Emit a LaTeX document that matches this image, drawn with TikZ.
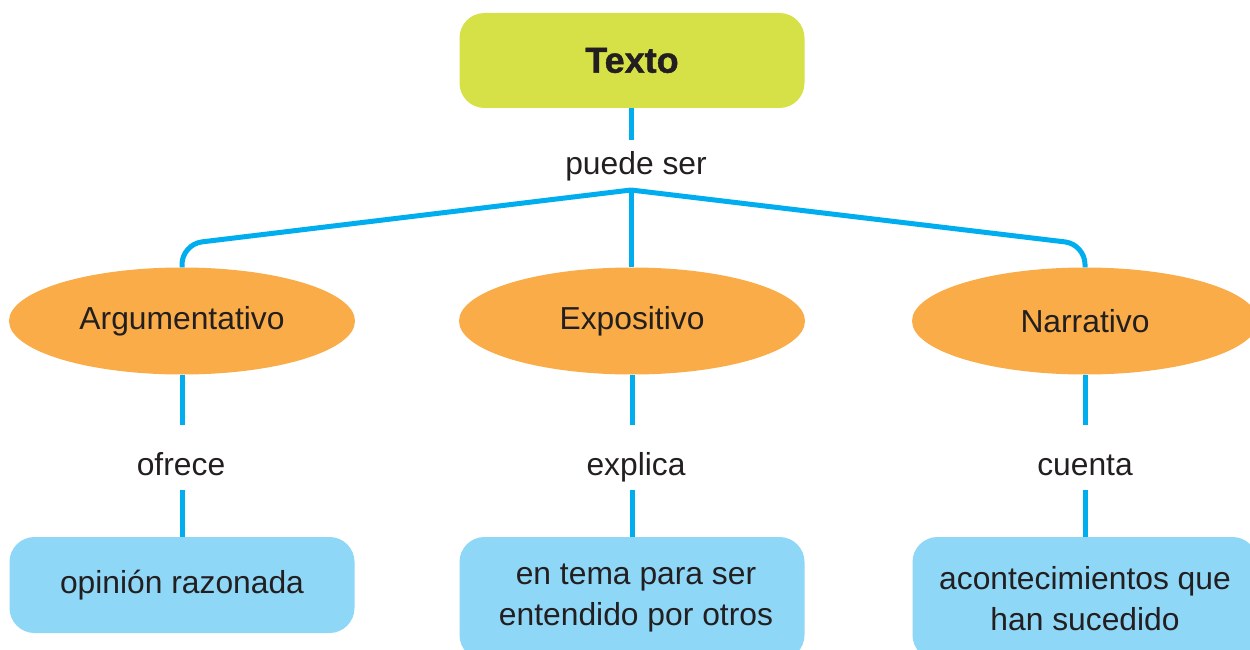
\documentclass[tikz,border=0pt]{standalone}
\usepackage{fontspec}
\setmainfont{Liberation Sans}
\newfontfamily\heavyfont{Liberation Sans Bold}[FakeBold=1.2]
\usetikzlibrary{shapes.geometric}
\definecolor{limec}{HTML}{D6E148}
\definecolor{orangec}{HTML}{F9AC47}
\definecolor{bluec}{HTML}{8ED7F7}
\definecolor{linec}{HTML}{00AEEF}
\definecolor{txt}{HTML}{231F20}
\begin{document}
\begin{tikzpicture}[x=1pt,y=-1pt,
  conn/.style={draw=linec, line width=5pt},
  topbox/.style={fill=limec, rounded corners=25pt, minimum width=345pt, minimum height=95pt, inner sep=0pt, text=txt, font=\fontsize{36}{40}\heavyfont},
  typebox/.style={ellipse, fill=orangec, minimum width=346pt, minimum height=107pt, inner sep=0pt, text=txt, font=\fontsize{31.8}{38}\selectfont},
  linklabel/.style={anchor=base, text height=35pt, text depth=0pt, inner xsep=4pt, inner ysep=15pt, text=txt, font=\fontsize{31.8}{38}\selectfont},
  leafbox/.style={fill=bluec, rounded corners=25pt, minimum width=345pt, inner sep=0pt, align=center, text=txt, font=\fontsize{31.8}{41}\selectfont},
]
\useasboundingbox (0,0) rectangle (1250,650);
\clip (0,0) rectangle (1250,650);

\node[topbox] (texto) at (632,60.5) {Texto};
\node[linklabel, inner ysep=0pt, text height=34pt] (puede) at (636,174) {puede ser};
\coordinate (hub) at (631,190);

\node[typebox] (arg) at (182,321) {Argumentativo};
\node[typebox] (exp) at (632,321) {Expositivo};
\node[typebox] (nar) at (1085,321) {Narrativo};

\node[linklabel] (ofrece) at (181,475) {ofrece};
\node[linklabel] (explica) at (636,475) {explica};
\node[linklabel] (cuenta) at (1085,475) {cuenta};

\node[leafbox, minimum height=96pt] (opinion) at (182,585) {opinión razonada};
\node[leafbox, minimum height=123pt] (tema) at (632,598.5) {\hspace*{8pt}en tema para ser\\\hspace*{8pt}entendido por otros};
\node[leafbox, minimum height=123pt] (acont) at (1085,598.5) {acontecimientos que\\han sucedido};

\draw[conn] (hub |- texto.south) -- (hub |- puede.north);
\draw[conn, rounded corners=20pt] (hub) -- ([yshift=23pt]arg.north) -- (arg.north);
\draw[conn, rounded corners=20pt] (hub) -- ([yshift=23pt]nar.north) -- (nar.north);
\draw[conn] (hub) -- (hub |- exp.north);

\draw[conn] (arg.south) -- (arg.south |- ofrece.north);
\draw[conn] (arg.south |- ofrece.south) -- (opinion.north);
\draw[conn] (exp.south) -- (exp.south |- explica.north);
\draw[conn] (exp.south |- explica.south) -- (tema.north);
\draw[conn] (nar.south) -- (cuenta.north);
\draw[conn] (cuenta.south) -- (acont.north);
\end{tikzpicture}
\end{document}
